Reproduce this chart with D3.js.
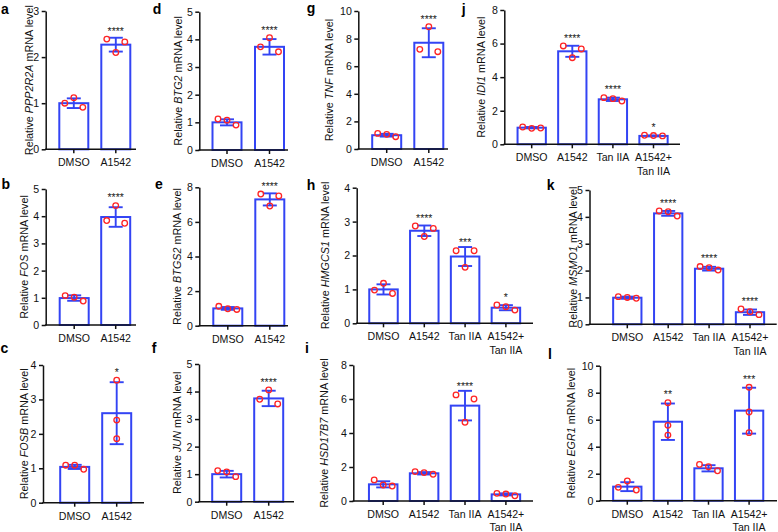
<!DOCTYPE html>
<html><head><meta charset="utf-8">
<script src="https://cdn.jsdelivr.net/npm/d3@7"></script>
<style>
html,body{margin:0;padding:0;background:#fff;}
svg{display:block;font-family:"Liberation Sans",Arial,Helvetica,sans-serif;}
</style></head><body>
<svg id="chart" width="778" height="532"></svg>
<script>
// ---------------- data ----------------
const groupsTwo = ["DMSO", "A1542"];
const groupsFour = ["DMSO", "A1542", "Tan IIA", "A1542+ Tan IIA"];
const tickLinesTwo = [["DMSO"], ["A1542"]];
const tickLinesFour = [["DMSO"], ["A1542"], ["Tan IIA"], ["A1542+", "Tan IIA"]];

const panelIds = ["a", "b", "c", "d", "e", "f", "g", "h", "i", "j", "k", "l"];
const geneNames = ["PPP2R2A", "FOS", "FOSB", "BTG2", "BTGS2", "JUN", "TNF", "HMGCS1", "HSD17B7", "IDI1", "MSMO1", "EGR1"];
const yMaxima = [3, 5, 4, 5, 8, 5, 10, 4, 8, 8, 5, 10];
const yTickSteps = [1, 1, 1, 1, 2, 1, 2, 1, 2, 2, 1, 2];

const meanValues = [
  [1.00, 2.27],
  [0.99, 3.97],
  [1.04, 2.60],
  [1.00, 3.73],
  [1.00, 7.30],
  [1.00, 3.75],
  [1.00, 7.70],
  [1.00, 2.73, 1.97, 0.46],
  [0.98, 1.63, 5.61, 0.39],
  [0.99, 5.54, 2.68, 0.50],
  [0.99, 4.13, 2.07, 0.45],
  [1.04, 5.85, 2.40, 6.67]
];
const sdValues = [
  [0.105, 0.15],
  [0.10, 0.36],
  [0.06, 0.90],
  [0.11, 0.28],
  [0.08, 0.35],
  [0.12, 0.28],
  [0.10, 1.05],
  [0.15, 0.155, 0.28, 0.075],
  [0.18, 0.07, 0.87, 0.06],
  [0.04, 0.33, 0.10, 0.03],
  [0.04, 0.09, 0.07, 0.10],
  [0.33, 1.35, 0.23, 1.70]
];
// replicate values, listed left to right as drawn
const replicateValues = [
  [[1.00, 1.12, 0.91], [2.39, 2.10, 2.33]],
  [[1.08, 1.02, 0.88], [3.84, 4.39, 3.74]],
  [[1.09, 1.09, 0.97], [3.56, 2.40, 1.86]],
  [[1.12, 1.08, 0.90], [3.73, 4.06, 3.55]],
  [[1.12, 0.98, 0.94], [7.61, 6.92, 7.50]],
  [[1.13, 1.08, 0.91], [3.72, 4.06, 3.55]],
  [[1.13, 1.06, 0.89], [7.22, 8.86, 7.05]],
  [[0.98, 1.18, 0.88], [2.87, 2.56, 2.80], [2.14, 1.65, 2.14], [0.54, 0.49, 0.39]],
  [[1.24, 0.94, 0.88], [1.73, 1.67, 1.57], [6.24, 4.63, 6.00], [0.45, 0.41, 0.31]],
  [[1.03, 0.95, 0.97], [5.86, 5.16, 5.68], [2.78, 2.72, 2.58], [0.54, 0.52, 0.50]],
  [[1.03, 1.00, 0.97], [4.22, 4.19, 4.03], [2.15, 2.11, 2.02], [0.57, 0.47, 0.36]],
  [[0.99, 1.46, 0.79], [7.26, 5.58, 4.86], [2.69, 2.52, 2.22], [8.40, 6.57, 5.04]]
];
const significance = [
  ["", "****"],
  ["", "****"],
  ["", "*"],
  ["", "****"],
  ["", "****"],
  ["", "****"],
  ["", "****"],
  ["", "****", "***", "*"],
  ["", "", "****", ""],
  ["", "****", "****", "*"],
  ["", "****", "****", "****"],
  ["", "**", "", "***"]
];

// ---------------- layout (pixels) ----------------
const layout = [
  {axisX: 45.7, yTop: 11,    yBot: 149.3, c1: 73.8,  step: 42,   barW: 29, axisEnd: 136,   titleX: 32.5,  lx: 1,     ly: 13.5},
  {axisX: 45.7, yTop: 189,   yBot: 325,   c1: 74.2,  step: 41.5, barW: 29, axisEnd: 136,   titleX: 27.5,  lx: 1.5,   ly: 188.5},
  {axisX: 43,   yTop: 365,   yBot: 502.7, c1: 74.7,  step: 42,   barW: 29, axisEnd: 144,   titleX: 27.5,  lx: 0.5,   ly: 353},
  {axisX: 199.3,yTop: 11.7,  yBot: 150,   c1: 227,   step: 42.5, barW: 29, axisEnd: 288,   titleX: 181.5, lx: 152.7, ly: 13.5},
  {axisX: 199.3,yTop: 187.3, yBot: 325.7, c1: 227.8, step: 42,   barW: 29, axisEnd: 288,   titleX: 180.7, lx: 155,   ly: 189},
  {axisX: 199,  yTop: 364,   yBot: 501.7, c1: 226.7, step: 42,   barW: 29, axisEnd: 294,   titleX: 180.7, lx: 151.7, ly: 353},
  {axisX: 358.3,yTop: 11,    yBot: 149,   c1: 386.7, step: 42.1, barW: 29, axisEnd: 448,   titleX: 333,   lx: 306.7, ly: 13},
  {axisX: 356.7,yTop: 187.7, yBot: 323.3, c1: 383.5, step: 40.8, barW: 28.5, axisEnd: 533, titleX: 329,   lx: 306.7, ly: 189.5},
  {axisX: 353.3,yTop: 365,   yBot: 501,   c1: 383.2, step: 40.9, barW: 28.5, axisEnd: 533, titleX: 327.5, lx: 305,   ly: 353},
  {axisX: 504.3,yTop: 10,    yBot: 144.3, c1: 531.7, step: 40.6, barW: 28.3, axisEnd: 680, titleX: 485,   lx: 461.7, ly: 14},
  {axisX: 589.5,yTop: 190,   yBot: 324.3, c1: 627.3, step: 40.9, barW: 28.3, axisEnd: 776.7, titleX: 576.5, lx: 546.7, ly: 190},
  {axisX: 600,  yTop: 365.7, yBot: 500.7, c1: 627.3, step: 40.6, barW: 28.3, axisEnd: 777, titleX: 575,   lx: 548,   ly: 359}
];

const blue = "#3344f4";
const red = "#ff2424";
const axisColor = "#111";
const fontSize = 10.6;

const svg = d3.select("#chart");

panelIds.forEach((pid, pi) => {
  const L = layout[pi];
  const means = meanValues[pi];
  const sds = sdValues[pi];
  const reps = replicateValues[pi];
  const stars = significance[pi];
  const groups = means.length === 2 ? groupsTwo : groupsFour;
  const tickLines = means.length === 2 ? tickLinesTwo : tickLinesFour;
  const g = svg.append("g");

  const y = d3.scaleLinear().domain([0, yMaxima[pi]]).range([L.yBot, L.yTop]);
  const pad = 1 - L.barW / L.step;
  const r0 = L.c1 - L.step / 2;
  const x = d3.scaleBand().domain(groups)
    .range([r0, r0 + groups.length * L.step])
    .paddingInner(pad).paddingOuter(pad / 2);
  const cx = gname => x(gname) + x.bandwidth() / 2;

  // bars
  g.selectAll("rect.bar").data(groups).enter().append("rect")
    .attr("x", d => x(d))
    .attr("y", (d, i) => y(means[i]))
    .attr("width", x.bandwidth())
    .attr("height", (d, i) => L.yBot - y(means[i]))
    .attr("fill", "#fff")
    .attr("stroke", blue)
    .attr("stroke-width", 2);

  // error bars
  groups.forEach((gname, i) => {
    const c = cx(gname);
    const yHi = y(means[i] + sds[i]);
    const yLo = y(Math.max(0, means[i] - sds[i]));
    const eb = g.append("g").attr("stroke", blue).attr("stroke-width", 1.9);
    eb.append("line").attr("x1", c).attr("x2", c).attr("y1", yHi).attr("y2", yLo);
    eb.append("line").attr("x1", c - 7).attr("x2", c + 7).attr("y1", yHi).attr("y2", yHi);
    eb.append("line").attr("x1", c - 7).attr("x2", c + 7).attr("y1", yLo).attr("y2", yLo);
    if (stars[i]) {
      const topY = Math.min(yHi, y(d3.max(reps[i])) - 3);
      g.append("text").attr("x", c).attr("y", topY - 1.2)
        .attr("text-anchor", "middle").attr("font-size", 10.5)
        .attr("fill", "#222").text(stars[i]);
    }
  });

  // replicate points
  groups.forEach((gname, i) => {
    const vals = reps[i];
    const py = vals.map(v => y(v));
    let overlap = false;
    for (let a = 0; a < py.length; a++)
      for (let b = a + 1; b < py.length; b++)
        if (Math.abs(py[a] - py[b]) < 7) overlap = true;
    const c = cx(gname);
    vals.forEach((v, k) => {
      const off = overlap ? (k - (vals.length - 1) / 2) * 9 : 0;
      g.append("circle").attr("cx", c + off).attr("cy", y(v)).attr("r", 2.8)
        .attr("fill", "none").attr("stroke", red).attr("stroke-width", 1.3);
    });
  });

  // y axis
  const ticks = d3.range(0, yMaxima[pi] + 1e-6, yTickSteps[pi]);
  const yAxis = g.append("g").attr("transform", `translate(${L.axisX},0)`)
    .call(d3.axisLeft(y).tickValues(ticks).tickSize(4).tickPadding(2.5).tickSizeOuter(0).tickFormat(d3.format("d")));
  yAxis.select(".domain").attr("stroke", axisColor).attr("stroke-width", 1.5);
  yAxis.selectAll(".tick line").attr("stroke", axisColor).attr("stroke-width", 1.5);
  yAxis.selectAll(".tick text").attr("font-size", fontSize).attr("fill", axisColor)
    .attr("font-family", "Liberation Sans, Arial, sans-serif");

  // x axis
  g.append("line").attr("x1", L.axisX - 0.75).attr("x2", L.axisEnd)
    .attr("y1", L.yBot).attr("y2", L.yBot)
    .attr("stroke", axisColor).attr("stroke-width", 1.5);
  groups.forEach((gname, i) => {
    const c = cx(gname);
    g.append("line").attr("x1", c).attr("x2", c).attr("y1", L.yBot).attr("y2", L.yBot + 4)
      .attr("stroke", axisColor).attr("stroke-width", 1.5);
    const t = g.append("text").attr("x", c).attr("y", L.yBot + 16.8)
      .attr("text-anchor", "middle").attr("font-size", fontSize).attr("fill", axisColor);
    tickLines[i].forEach((line, li) => {
      t.append("tspan").attr("x", c).attr("dy", li === 0 ? 0 : 13.5).text(line);
    });
  });

  // y title
  const title = g.append("text")
    .attr("transform", `translate(${L.titleX},${(L.yTop + L.yBot) / 2}) rotate(-90)`)
    .attr("text-anchor", "middle").attr("font-size", 10.8).attr("fill", axisColor);
  title.append("tspan").text("Relative ");
  title.append("tspan").attr("font-style", "italic").text(geneNames[pi]);
  title.append("tspan").text(" mRNA level");

  // panel letter
  g.append("text").attr("x", L.lx).attr("y", L.ly)
    .attr("font-size", 14).attr("font-weight", "bold").attr("fill", "#000").text(pid);
});
</script>
</body></html>
